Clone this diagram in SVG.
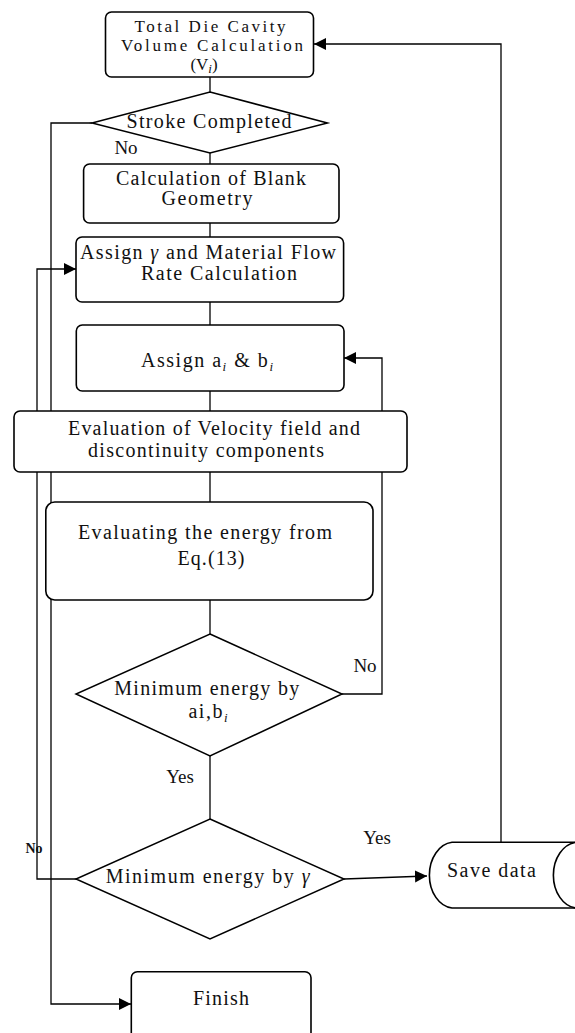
<svg xmlns="http://www.w3.org/2000/svg" width="575" height="1033" viewBox="0 0 575 1033">
<style>
.box{fill:#fff;stroke:#000;stroke-width:1.6}
.dia{fill:#fff;stroke:#000;stroke-width:1.5}
.con{fill:none;stroke:#000;stroke-width:1.3}
text{font-family:'Liberation Serif','DejaVu Serif',serif;font-size:20px;fill:#111;text-anchor:middle}
.lbl{font-size:19px}
.sm{font-size:17px}
.sub{font-style:italic;font-size:13px}
</style>
<defs>
<marker id="arr" markerUnits="userSpaceOnUse" markerWidth="13" markerHeight="13" refX="12" refY="6" orient="auto">
<path d="M0,0 L12,6 L0,12 Z" fill="#000"/>
</marker>
</defs>
<rect width="575" height="1033" fill="#fff"/>
<g id="connectors">
<line class="con" x1="210" y1="77" x2="210" y2="92"/>
<line class="con" x1="210" y1="153" x2="210" y2="164"/>
<line class="con" x1="210" y1="223" x2="210" y2="237"/>
<line class="con" x1="210" y1="302" x2="210" y2="325"/>
<line class="con" x1="210" y1="391" x2="210" y2="411"/>
<line class="con" x1="210" y1="472" x2="210" y2="502"/>
<line class="con" x1="210" y1="600" x2="210" y2="634"/>
<line class="con" x1="210" y1="756" x2="210" y2="819"/>
<polyline class="con" points="92,123 51,123 51,1004 131,1004" marker-end="url(#arr)"/>
<polyline class="con" points="76,879 37,879 37,269 76,269" marker-end="url(#arr)"/>
<polyline class="con" points="342,694 382,694 382,358 344,358" marker-end="url(#arr)"/>
<line class="con" x1="344" y1="879" x2="427" y2="876" marker-end="url(#arr)"/>
<polyline class="con" points="501,842 501,44 314,44" marker-end="url(#arr)"/>
<text class="lbl" x="126" y="154">No</text>
<text class="lbl" x="365" y="672">No</text>
<text class="lbl" x="180" y="783">Yes</text>
<text class="lbl" x="377" y="844">Yes</text>
<text x="34" y="853" style="font-size:14px;font-weight:bold">No</text>
</g>
<g id="n1">
<rect class="box" x="105.5" y="12" width="208" height="65" rx="6"/>
<text class="sm" x="210" y="31.7" textLength="151" lengthAdjust="spacing">Total Die Cavity</text>
<text class="sm" x="212" y="50.7" textLength="182" lengthAdjust="spacing">Volume Calculation</text>
<text class="sm" x="204" y="69.5">(V<tspan class="sub" dy="3">i</tspan><tspan dy="-3">)</tspan></text>
</g>
<g id="n2">
<polygon class="dia" points="210,92 327.5,123 210,153 92,123"/>
<text x="209" y="128.3" textLength="165" lengthAdjust="spacing">Stroke Completed</text>
</g>
<g id="n3">
<rect class="box" x="83.6" y="164" width="255.4" height="59" rx="6"/>
<text x="211" y="185" textLength="190" lengthAdjust="spacing">Calculation of Blank</text>
<text x="207" y="205" textLength="91" lengthAdjust="spacing">Geometry</text>
</g>
<g id="n4">
<rect class="box" x="76" y="237" width="267.6" height="65" rx="6"/>
<text x="208" y="259" textLength="256" lengthAdjust="spacing">Assign <tspan font-style="italic">γ</tspan> and Material Flow</text>
<text x="219" y="280" textLength="156" lengthAdjust="spacing">Rate Calculation</text>
</g>
<g id="n5">
<rect class="box" x="76.3" y="325" width="267.7" height="66" rx="6"/>
<text x="207" y="367" textLength="132" lengthAdjust="spacing">Assign a<tspan class="sub" dy="4">i</tspan><tspan dy="-4"> &amp; b</tspan><tspan class="sub" dy="4">i</tspan></text>
</g>
<g id="n6">
<rect class="box" x="14" y="411" width="393" height="61" rx="6"/>
<text x="214" y="435" textLength="292" lengthAdjust="spacing">Evaluation of Velocity field and</text>
<text x="206" y="456.7" textLength="236" lengthAdjust="spacing">discontinuity components</text>
</g>
<g id="n7">
<rect class="box" x="45.8" y="502" width="327.2" height="98" rx="9"/>
<text x="205" y="539.3" textLength="254" lengthAdjust="spacing">Evaluating the energy from</text>
<text x="211" y="565" textLength="67" lengthAdjust="spacing">Eq.(13)</text>
</g>
<g id="n8">
<polygon class="dia" points="210,634 342,694 210,756 76,694"/>
<text x="206.7" y="695" textLength="185" lengthAdjust="spacing">Minimum energy by</text>
<text x="208" y="718.3" textLength="39" lengthAdjust="spacing">ai,b<tspan class="sub" dy="4">i</tspan></text>
</g>
<g id="n9">
<polygon class="dia" points="210,819 344,879 210,939 76,879"/>
<text x="207.7" y="883.3" textLength="204" lengthAdjust="spacing">Minimum energy by <tspan font-style="italic">γ</tspan></text>
</g>
<g id="n10">
<path class="box" d="M452,842.3 H600 A25,33 0 0 1 600,908 H452 A25,33 0 0 1 452,842.3 Z"/>
<path class="box" d="M576,842.3 A25,33 0 0 0 576,908" fill="none"/>
<text x="491.5" y="876.7" textLength="89" lengthAdjust="spacing">Save data</text>
</g>
<g id="n11">
<rect class="box" x="131.3" y="971.7" width="179.7" height="80" rx="6"/>
<text x="221" y="1005" textLength="56" lengthAdjust="spacing">Finish</text>
</g>
</svg>
